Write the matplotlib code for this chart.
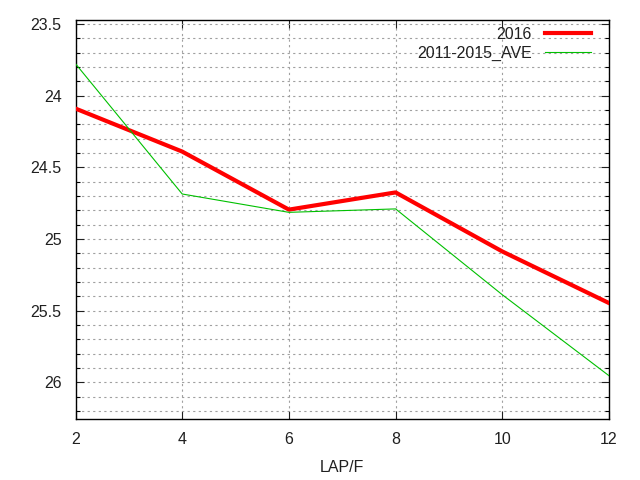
import numpy as np
import matplotlib
matplotlib.use("Agg")
import matplotlib.pyplot as plt
from matplotlib.ticker import MultipleLocator

laps = [2, 4, 6, 8, 10, 12]
times_2016 = [24.09, 24.39, 24.795, 24.675, 25.087, 25.447]
times_ave = [23.777, 24.686, 24.814, 24.79, 25.389, 25.954]

plt.rcParams['font.family'] = ['Liberation Sans', 'DejaVu Sans']

fig = plt.figure(figsize=(6.4, 4.8), dpi=100)
ax = fig.add_axes([75.5 / 640, 1 - 419 / 480, (609 - 75.5) / 640, (419 - 20.3) / 480])

ax.plot(laps, times_2016, color='#ff0000', lw=3.0, label='2016', zorder=3)
ax.plot(laps, times_ave, color='#00c000', lw=0.8, label='2011-2015_AVE', zorder=3)

ax.set_xlim(2, 12)
ax.set_ylim(26.256, 23.474)
ax.xaxis.set_major_locator(MultipleLocator(2))
ax.yaxis.set_major_locator(MultipleLocator(0.5))
ax.yaxis.set_minor_locator(MultipleLocator(0.1))
ax.yaxis.set_major_formatter(matplotlib.ticker.FuncFormatter(lambda v, p: f"{v:g}"))

grid_kw = dict(color='#a0a0a0', linestyle=(0, (2, 3)), linewidth=0.8)
ax.grid(True, which='major', axis='both', **grid_kw)
ax.grid(True, which='minor', axis='y', **grid_kw)

ax.tick_params(which='major', direction='in', length=6, width=0.8,
               top=True, right=True, labelsize=11.5, colors='#202020')
ax.tick_params(axis='y', which='major', pad=10)
ax.tick_params(axis='x', which='major', pad=9)
ax.tick_params(which='minor', direction='in', length=3, width=0.8,
               left=True, right=True)
ax.tick_params(axis='x', which='minor', bottom=False, top=False)
for s in ax.spines.values():
    s.set_linewidth(1.0)

ax.set_xlabel('LAP/F', fontsize=11.5, labelpad=10, color='#202020')

leg = ax.legend(loc='upper right', frameon=False, fontsize=11.5, markerfirst=False,
                handlelength=2.9, borderaxespad=0, borderpad=0, labelspacing=0.22,
                handletextpad=0.8, bbox_to_anchor=(591 / 640, 1 - 27 / 480),
                bbox_transform=fig.transFigure)
for t in leg.get_texts():
    t.set_ha('right')
    t.set_color('#202020')

fig.savefig('out.png', dpi=100)
